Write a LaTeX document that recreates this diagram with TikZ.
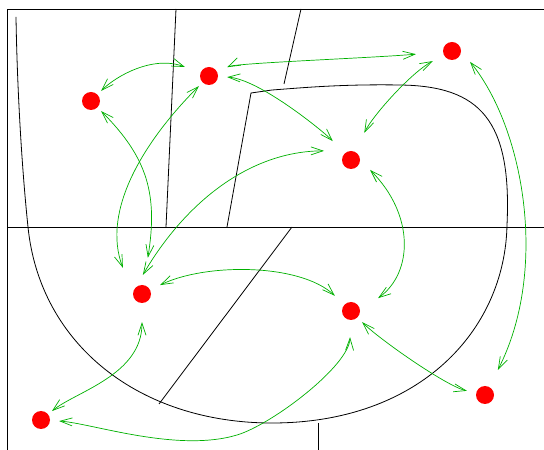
\documentclass[tikz,border=0pt]{standalone}
\usepackage{tikz}
\usetikzlibrary{arrows.meta}
\definecolor{linkgreen}{RGB}{0,176,0}

\begin{document}
\begin{tikzpicture}[x=1pt, y=1pt,
		wall/.style={line width=0.8pt, black},
		dot/.style={circle, fill=red, inner sep=0pt, minimum size=18pt},
		link/.style={{Straight Barb[length=12pt, width=8pt]}-{Straight Barb[length=12pt, width=8pt]}, line width=0.7pt, linkgreen}
		]
		\useasboundingbox (0,0) rectangle (544,450);
		
		% Frame and walls
		\draw[wall] (544,441) -- (7,441) -- (7,0);
		\draw[wall] (7,223) -- (544,223);
		\draw[wall] (176,441) -- (166,223);
		\draw[wall] (301,441) -- (284,366);
		\draw[wall] (292,223) -- (159,46);
		\draw[wall] (318,27) -- (318,0);
		
		% Big closed curve
		\draw[wall] (16,433) .. controls (17,370) and (21,290) .. (28,223)
			.. controls (40,105) and (140,27) .. (272,27)
			.. controls (420,27) and (505,120) .. (507,225)
			.. controls (512,330) and (480,364) .. (400,365)
			.. controls (340,366) and (300,362) .. (272,360)
			-- (251,357) -- (227,223);
		
		% Dots
		\node[dot] (A) at (91,349) {};
		\node[dot] (B) at (209,374) {};
		\node[dot] (C) at (452,399) {};
		\node[dot] (D) at (351,290) {};
		\node[dot] (E) at (142,156) {};
		\node[dot] (F) at (351,139) {};
		\node[dot] (G) at (41,30) {};
		\node[dot] (H) at (485,55) {};
		
		% Links
		\draw[link, shorten <=5pt, shorten >=16.6pt] (A) .. controls (116,374) and (153,395) .. (B);
		\draw[link, shorten <=11pt, shorten >=27pt] (B) .. controls (236,387) and (372,392) .. (C);
		\draw[link, shorten <=9pt, shorten >=17pt] (B) .. controls (259,371) and (323,319) .. (D);
		\draw[link, shorten <=12.5pt, shorten >=21pt] (C) .. controls (412,378) and (373,335) .. (D);
		\draw[link, shorten <=5pt, shorten >=27.5pt] (A) .. controls (148,292) and (158,255) .. (E);
		\draw[link, shorten <=5pt, shorten >=28pt] (B) .. controls (145,310) and (101,240) .. (E.west);
		\draw[link, shorten <=27pt, shorten >=14.6pt] (D.north) .. controls (251,299) and (186,249) .. (E.north west);
		\draw[link, shorten <=11pt, shorten >=13pt] (E) .. controls (205,187) and (300,187) .. (F);
		\draw[link, shorten <=14pt, shorten >=22pt] (D.east) .. controls (415,235) and (413,177) .. (F.east);
		\draw[link, shorten <=14pt, shorten >=19pt] (C.east) .. controls (524,322) and (549,180) .. (H);
		\draw[link, shorten <=6.6pt, shorten >=9.4pt] (F) .. controls (379,111) and (446,64) .. (H);
		\draw[link, shorten <=19pt, shorten >=5pt] (E) .. controls (142,75) and (76,58.5) .. (G);
		\draw[link, shorten <=9pt, shorten >=17pt] (G) .. controls (91,27) and (177,-3) .. (237,15)
			.. controls (272,25.5) and (349,84) .. (F);
		
	\end{tikzpicture}
\end{document}
